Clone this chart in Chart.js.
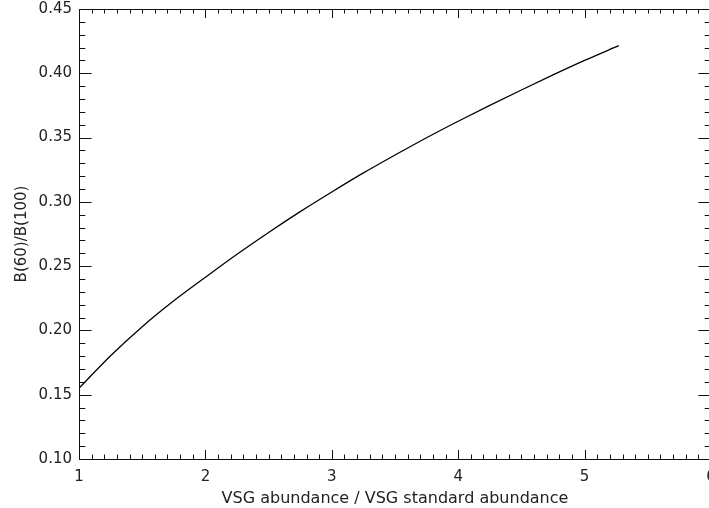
<!DOCTYPE html>
<html lang="en">

<head>
    <meta charset="UTF-8">
    <title>B(60)/B(100) vs VSG abundance</title>
    <script src="https://cdn.jsdelivr.net/npm/chart.js"></script>
    <style>
        body {
            margin: 0;
            overflow: hidden;
            background-color: #fff;
        }

        canvas {
            display: block;
        }
    </style>
</head>

<body>

    <canvas id="ratioChart" width="720" height="508"></canvas>

    <script>
        // values
        const abundance = [1.0, 1.25, 1.5, 1.75, 2.0, 2.25, 2.5, 2.75, 3.0, 3.25, 3.5, 3.75, 4.0, 4.25, 4.5, 4.75, 5.0, 5.27];
        const ratio = [0.155, 0.1803, 0.2029, 0.2230, 0.2413, 0.2592, 0.2762, 0.2924, 0.3077, 0.3225, 0.3364, 0.3499, 0.3627, 0.3750, 0.3870, 0.3987, 0.4100, 0.4215];
        const xTicks = [1, 2, 3, 4, 5, 6];
        const yTicks = [0.10, 0.15, 0.20, 0.25, 0.30, 0.35, 0.40, 0.45];

        const points = abundance.map((a, i) => ({ x: a, y: ratio[i] }));

        // IDL style box with inward ticks on all four sides
        const boxTicks = {
            id: 'boxTicks',
            afterDraw(chart) {
                const { ctx, chartArea: a, scales: { x, y } } = chart;
                ctx.save();
                ctx.strokeStyle = '#111';
                ctx.lineWidth = 1;
                ctx.strokeRect(a.left + 0.5, a.top + 0.5, a.right - a.left, a.bottom - a.top);
                ctx.beginPath();
                for (let i = xTicks[0] * 10; i <= xTicks[xTicks.length - 1] * 10; i++) {
                    const px = Math.round(x.getPixelForValue(i / 10)) + 0.5;
                    const len = i % 10 === 0 ? 9 : 4.5;
                    ctx.moveTo(px, a.bottom);
                    ctx.lineTo(px, a.bottom - len);
                    ctx.moveTo(px, a.top);
                    ctx.lineTo(px, a.top + len);
                }
                for (let i = 10; i <= 45; i++) {
                    const py = Math.round(y.getPixelForValue(i / 100)) + 0.5;
                    const len = i % 5 === 0 ? 12.6 : 6.3;
                    ctx.moveTo(a.left, py);
                    ctx.lineTo(a.left + len, py);
                    ctx.moveTo(a.right, py);
                    ctx.lineTo(a.right - len, py);
                }
                ctx.stroke();
                ctx.restore();
            }
        };

        // drop the label overflow padding so the plot box lands where the reference has it
        function noPad(scale) {
            scale.paddingLeft = 0;
            scale.paddingRight = 0;
            scale.paddingTop = 0;
            scale.paddingBottom = 0;
        }

        const ctx = document.getElementById('ratioChart').getContext('2d');
        new Chart(ctx, {
            type: 'line',
            data: {
                datasets: [{
                    data: points,
                    borderColor: '#000',
                    borderWidth: 1.3,
                    pointRadius: 0,
                    fill: false,
                    cubicInterpolationMode: 'monotone'
                }]
            },
            options: {
                responsive: false,
                animation: false,
                layout: { padding: { top: 9, right: 9, left: 0, bottom: 0 } },
                plugins: {
                    legend: { display: false },
                    tooltip: { enabled: false }
                },
                scales: {
                    x: {
                        type: 'linear',
                        min: 1,
                        max: 6,
                        afterFit: (scale) => { scale.height = 49; noPad(scale); },
                        afterBuildTicks: (scale) => { scale.ticks = xTicks.map(v => ({ value: v })); },
                        grid: { display: false, drawTicks: false },
                        border: { display: false },
                        ticks: {
                            padding: 9,
                            maxRotation: 0,
                            color: '#222',
                            font: { family: 'DejaVu Sans', size: 15 },
                            callback: (v) => String(v)
                        },
                        title: {
                            display: true,
                            text: 'VSG abundance / VSG standard abundance',
                            color: '#222',
                            padding: { top: 0, bottom: 0 },
                            font: { family: 'DejaVu Sans', size: 16 }
                        }
                    },
                    y: {
                        type: 'linear',
                        min: 0.10,
                        max: 0.45,
                        afterFit: (scale) => { scale.width = 79; noPad(scale); },
                        afterBuildTicks: (scale) => { scale.ticks = yTicks.map(v => ({ value: v })); },
                        grid: { display: false, drawTicks: false },
                        border: { display: false },
                        ticks: {
                            padding: 7,
                            color: '#222',
                            font: { family: 'DejaVu Sans', size: 15 },
                            callback: (v) => v.toFixed(2)
                        },
                        title: {
                            display: true,
                            text: 'B(60)/B(100)',
                            color: '#222',
                            padding: { top: 13, bottom: 0 },
                            font: { family: 'DejaVu Sans', size: 15 }
                        }
                    }
                }
            },
            plugins: [boxTicks]
        });
    </script>

</body>

</html>
